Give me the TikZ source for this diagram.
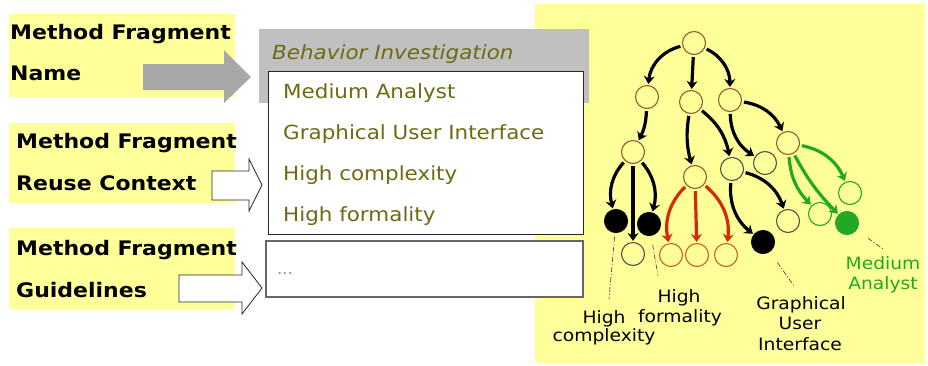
\documentclass[tikz,border=0pt]{standalone}
\usepackage{fontspec}
\newfontfamily\dv[FakeStretch=1.1]{DejaVu Sans}
\usetikzlibrary{arrows.meta}

\definecolor{lblyellow}{HTML}{FFFF99}
\definecolor{arrowgray}{HTML}{A8A8A8}
\definecolor{boxgray}{HTML}{C0C0C0}
\definecolor{olivetxt}{HTML}{6E6A14}
\definecolor{treebrown}{HTML}{8E5E32}
\definecolor{treedark}{HTML}{505050}
\definecolor{redarr}{HTML}{D42A0A}
\definecolor{redring}{HTML}{C8601E}
\definecolor{greenarr}{HTML}{22A822}

\begin{document}
\begin{tikzpicture}[x=1pt,y=-1pt,
  lbl/.style={anchor=base west, inner sep=0, font=\dv\bfseries\fontsize{20}{24}\selectfont},
  item/.style={anchor=base west, inner sep=0, text=olivetxt, font=\dv\fontsize{19.5}{23}\selectfont},
  tag/.style={anchor=base, inner sep=0, font=\dv\fontsize{17}{20}\selectfont},
  vtx/.style={circle, draw=treebrown, line width=1.1pt, minimum size=23pt, inner sep=0},
  vdark/.style={vtx, draw=treedark},
  vfull/.style={vtx, draw=black, fill=black},
  vred/.style={vtx, draw=redring},
  vgreen/.style={vtx, draw=greenarr},
  vgfull/.style={vtx, draw=greenarr, fill=greenarr},
  arr/.style={line width=3.2pt, -{Stealth[length=8pt,width=11pt]}, shorten <=2pt, shorten >=1pt},
  lead/.style={draw=black!70, line width=0.7pt, dash pattern=on 5pt off 2pt on 1pt off 2pt},
  outlinearr/.style={draw=black!85, fill=white, line width=0.8pt, line join=miter},
]
\useasboundingbox (0,0) rectangle (928,365);
\fill[white] (0,0) rectangle (928,365);

% ---- left column: field labels ----
\fill[lblyellow] (9,14) rectangle (235,97);
\fill[lblyellow] (9,123) rectangle (235,203);
\fill[lblyellow] (9,228) rectangle (235,309);
\node[lbl] (l1a) at (10,39) {Method Fragment};
\node[lbl] (l1b) at (10,80) {Name};
\node[lbl] (l2a) at (16,148) {Method Fragment};
\node[lbl] (l2b) at (16,190) {Reuse Context};
\node[lbl] (l3a) at (16,255) {Method Fragment};
\node[lbl] (l3b) at (16,297) {Guidelines};

% ---- tree panel background ----
\fill[lblyellow] (535,4) rectangle (925,363);

% ---- fragment card ----
\fill[boxgray] (259,29) rectangle (589,103);
\node[item, font=\dv\itshape\fontsize{19.5}{23}\selectfont] (title) at (272,59) {Behavior Investigation};
\draw[draw=black!85, fill=white, line width=0.9pt] (268,71) rectangle (583,234);
\node[item] (c1) at (283,98) {Medium Analyst};
\node[item] (c2) at (283,139) {Graphical User Interface};
\node[item] (c3) at (283,180) {High complexity};
\node[item] (c4) at (283,221) {High formality};
\draw[draw=black!60, fill=white, line width=1.2pt] (266,241) rectangle (583,297);
\node[item, text=black!45, font=\dv\fontsize{15}{18}\selectfont] (g1) at (277,274) {...};

% ---- block arrows from labels to the card ----
\fill[arrowgray] (143,64) -- (224,64) -- (224,50) -- (251,77) -- (224,103) -- (224,90) -- (143,90) -- cycle;
\draw[outlinearr] (212,171) -- (249,171) -- (249,159) -- (262,185) -- (249,211) -- (249,200) -- (212,200) -- cycle;
\draw[outlinearr] (179,275) -- (242,275) -- (242,262) -- (262,288) -- (242,314) -- (242,302) -- (179,302) -- cycle;

% ---- tree ----
\node[vtx]   (n0)  at (694,43)  {};
\node[vtx]   (n1)  at (647,97)  {};
\node[vtx]   (n2)  at (691,102) {};
\node[vtx]   (n3)  at (730,100) {};
\node[vtx]   (n4)  at (633,152) {};
\node[vtx]   (n5)  at (695,177) {};
\node[vdark] (n6)  at (732,169) {};
\node[vdark] (n7)  at (765,163) {};
\node[vtx]   (n8)  at (788,143) {};
\node[vfull] (n9)  at (616,221) {};
\node[vfull] (n10) at (649,224) {};
\node[vdark] (n11) at (633,254) {};
\node[vred]  (n12) at (671,255) {};
\node[vred]  (n13) at (697,255) {};
\node[vred]  (n14) at (726,255) {};
\node[vfull] (n15) at (763,242) {};
\node[vdark] (n16) at (788,221) {};
\node[vgreen](n17) at (820,214) {};
\node[vgfull](n18) at (847,223) {};
\node[vgreen](n19) at (850,193) {};

\draw[arr] (n0) to[bend right=35] (n1);
\draw[arr] (n0) -- (n2);
\draw[arr] (n0) to[bend left=32] (n3);
\draw[arr] (n1) to[bend left=12] (n4);
\draw[arr] (n2) to[bend right=12] (n5);
\draw[arr] (n2) to[bend left=20] (n6);
\draw[arr] (n3) to[bend right=28] (n7);
\draw[arr] (n3) to[bend left=28] (n8);
\draw[arr] (n4) to[bend right=28] (n9);
\draw[arr] (n4) to[bend left=28] (n10);
\draw[arr] (n4) -- (n11);
\draw[arr, redarr] (n5) to[bend right=28] (n12);
\draw[arr, redarr] (n5) -- (n13);
\draw[arr, redarr] (n5) to[bend left=28] (n14);
\draw[arr] (n6) to[bend right=28] (n15);
\draw[arr] (n6) to[bend left=28] (n16);
\draw[arr, greenarr] (n8) to[bend right=20] (n17);
\draw[arr, greenarr] (n8) to[bend right=8] (n18);
\draw[arr, greenarr] (n8) to[bend left=28] (n19);

% ---- property tags and leader lines ----
\node[tag] (t1a) at (604,323) {High};
\node[tag] (t1b) at (604,341) {complexity};
\node[tag] (t2a) at (679,302) {High};
\node[tag] (t2b) at (680,322) {formality};
\node[tag] (t3a) at (801,309) {Graphical};
\node[tag] (t3b) at (800,329) {User};
\node[tag] (t3c) at (800,350) {Interface};
\node[tag, text=greenarr] (t4a) at (883,269) {Medium};
\node[tag, text=greenarr] (t4b) at (883,289) {Analyst};

\coordinate (e1) at (609,299);
\coordinate (e2) at (658,276);
\coordinate (e3) at (794,286);
\coordinate (e4) at (883,249);
\draw[lead, shorten <=4pt] (n9) -- (e1);
\draw[lead, shorten <=9pt] (n10) -- (e2);
\draw[lead, shorten <=13pt] (n15) -- (e3);
\draw[lead, shorten <=14pt] (n18) -- (e4);
\end{tikzpicture}
\end{document}
